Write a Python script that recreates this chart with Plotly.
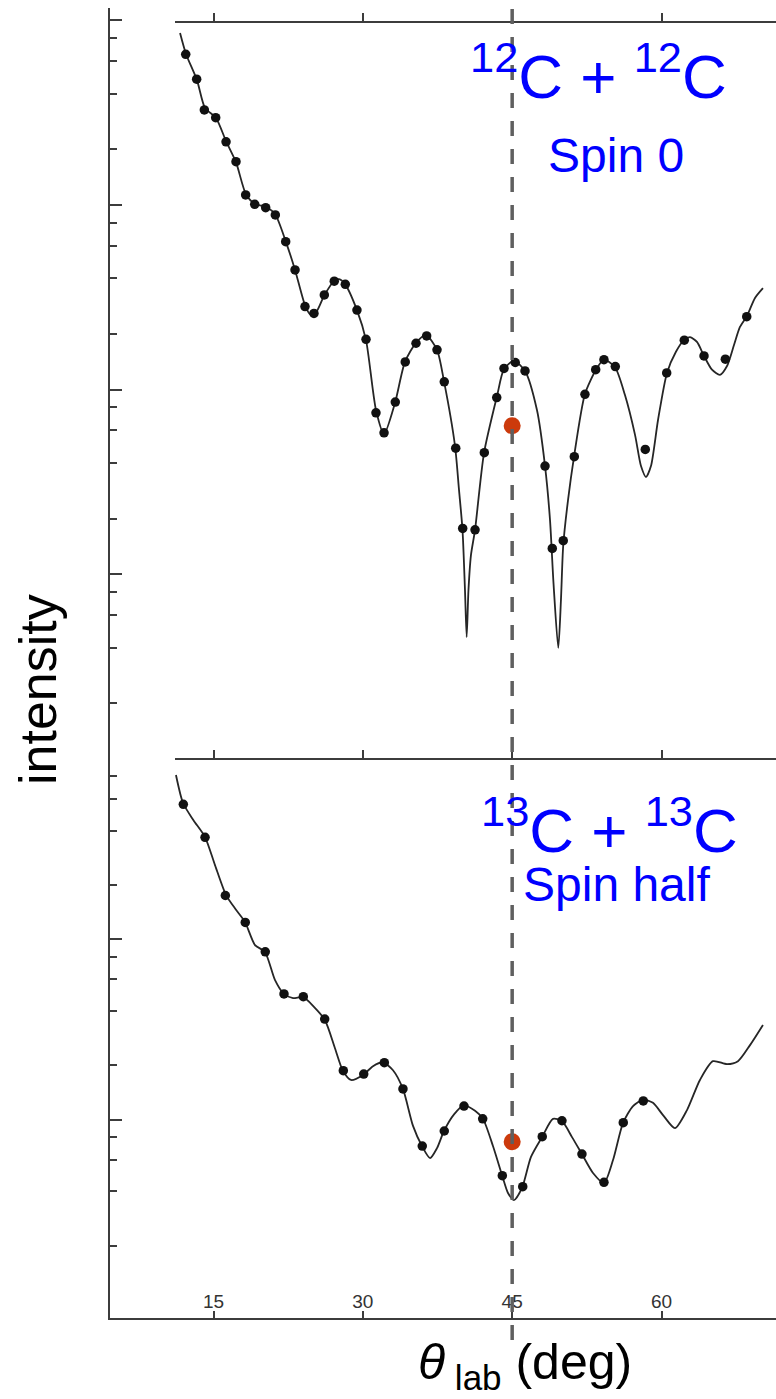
import plotly.graph_objects as go

# ---------------- data ----------------
# 12C + 12C  (spin 0) : theory curve and measured points
top_curve_theta = [11.64, 12.24, 13.34, 14.15, 15.25, 16.26, 17.26, 18.26, 19.17, 20.27,
                   21.18, 22.28, 23.19, 24.19, 24.69, 25.30, 26.10, 27.10, 27.61, 28.21,
                   29.41, 30.32, 31.32, 32.13, 33.23, 34.23, 35.34, 36.34, 37.45, 38.15,
                   39.26, 39.66, 40.01, 40.26, 40.43, 40.61, 40.86, 41.27, 42.17, 43.48,
                   44.18, 45.18, 46.29, 47.49, 48.30, 48.80, 49.15, 49.63, 49.90, 50.13,
                   50.61, 51.21, 52.31, 53.42, 54.22, 55.33, 56.33, 57.34, 57.94, 58.44,
                   58.94, 59.65, 60.55, 61.45, 62.26, 62.86, 63.56, 64.27, 65.07, 65.87,
                   66.58, 67.28, 67.88, 68.58, 69.39, 70.19]
top_curve_value = [8510, 6550, 4730, 3340, 2950, 2210, 1700, 1140, 1010, 973,
                   891, 628, 444, 286, 256, 262, 321, 386, 396, 372,
                   269, 185, 77.4, 57.4, 84.5, 141, 179, 197, 164, 111,
                   49.4, 28.6, 17.4, 8.22, 4.57, 8.22, 12.7, 17.4, 45.3, 92.3,
                   129, 143, 126, 77.4, 38.5, 19.7, 8.97, 3.99, 7.26, 14.4,
                   25.2, 43.2, 94.6, 128, 145, 132, 93.3, 56.8, 38.5, 33.6,
                   38.5, 68.4, 123, 160, 185, 192, 181, 152, 128, 120,
                   134, 174, 218, 250, 313, 354]
top_data_theta = [12.21, 13.31, 14.08, 15.22, 16.26, 17.26, 18.23, 19.14, 20.24, 21.21,
                  22.25, 23.19, 24.19, 25.09, 26.13, 27.13, 28.24, 29.41, 30.32, 31.32,
                  32.13, 33.26, 34.26, 35.34, 36.41, 37.45, 38.18, 39.33, 40.03, 41.27,
                  42.20, 43.45, 44.18, 45.31, 46.29, 48.30, 49.03, 50.13, 51.24, 52.31,
                  53.39, 54.22, 55.36, 58.37, 60.52, 62.29, 64.27, 66.41, 68.56]
top_data_value = [6520, 4780, 3260, 2960, 2190, 1710, 1130, 1005, 964, 881,
                  631, 444, 281, 258, 325, 386, 371, 269, 187, 74.8,
                  58.3, 85.5, 141, 178, 195, 164, 110, 48.1, 17.7, 17.4,
                  45.5, 90.4, 130, 140, 126, 38.5, 13.8, 15.2, 43.3, 94.2,
                  128, 145, 133, 47.4, 123, 185, 152, 146, 248]

# 13C + 13C  (spin half)
bot_curve_theta = [11.23, 11.94, 12.97, 14.15, 15.15, 16.26, 17.26, 18.16, 19.17, 20.17,
                   21.18, 22.08, 22.99, 23.99, 25.09, 26.20, 27.20, 28.01, 28.81, 30.02,
                   31.02, 32.02, 33.03, 34.03, 35.04, 35.94, 36.75, 37.45, 38.15, 39.16,
                   40.16, 41.27, 42.07, 43.07, 43.98, 44.58, 45.18, 45.99, 46.89, 48.00,
                   49.10, 50.00, 51.01, 52.01, 53.12, 54.22, 55.13, 56.13, 57.14, 58.14,
                   59.14, 60.15, 61.35, 62.56, 63.86, 65.17, 66.58, 67.68, 68.89, 70.19]
bot_curve_value = [815, 570, 459, 369, 258, 176, 146, 125, 92.9, 85.1,
                   59.4, 49.8, 47.2, 47.9, 42.2, 35.6, 24.9, 18.6, 16.6, 17.7,
                   19.8, 20.8, 18.8, 14.8, 9.23, 7.14, 6.12, 6.95, 8.65, 10.7,
                   12.0, 11.2, 10.1, 7.14, 4.93, 3.92, 3.58, 4.18, 6.21, 8.00,
                   10.1, 9.82, 8.00, 6.44, 5.06, 4.45, 5.97, 9.57, 11.9, 12.9,
                   12.4, 10.6, 8.97, 11.3, 16.6, 21.1, 20.3, 21.1, 25.9, 33.5]
bot_data_theta = [11.97, 14.15, 16.19, 18.19, 20.20, 22.08, 24.02, 26.17, 28.04, 30.09,
                  32.16, 34.03, 35.97, 38.18, 40.16, 42.04, 44.01, 46.06, 48.02, 50.00,
                  52.01, 54.22, 56.16, 58.17]
bot_data_value = [561, 368, 175, 124, 85.3, 49.8, 48.1, 36.1, 18.7, 17.9,
                  20.7, 14.8, 7.14, 8.65, 11.9, 10.1, 4.89, 4.25, 8.04, 9.86,
                  6.44, 4.49, 9.62, 12.7]

# highlighted points at 90 deg c.m. (45 deg lab)
marked_theta = [45.0]
marked_top_value = [63.7]
marked_bot_value = [7.53]

x_ticks = [15, 30, 45, 60]
x_range = [4.604, 71.50]
frame_range = [11.133, 71.50]

top_major = [1, 10, 100, 1000, 10000]
top_minor = [m * d for d in [1, 10, 100, 1000] for m in (2, 4, 6, 8)]
bot_major = [1, 10, 100, 1000]
bot_minor = [m * d for d in [1, 10, 100] for m in (2, 4, 6, 8)]

# ---------------- figure ----------------
W, H = 776, 1399
AX = "#3c3c3c"
FONT = "Liberation Sans, Arial, sans-serif"

def py(p):  # pixel row -> paper fraction
    return 1 - p / H

fig = go.Figure()

curve_style = dict(color="#262626", width=1.8, shape="spline", smoothing=0.7)
dot_style = dict(color="#111111", size=9.5)
red_style = dict(color="#cc3a0c", size=17)

fig.add_trace(go.Scatter(x=top_curve_theta, y=top_curve_value, mode="lines",
                         line=curve_style, xaxis="x", yaxis="y", hoverinfo="skip"))
fig.add_trace(go.Scatter(x=top_data_theta, y=top_data_value, mode="markers",
                         marker=dot_style, xaxis="x", yaxis="y"))
fig.add_trace(go.Scatter(x=marked_theta, y=marked_top_value, mode="markers",
                         marker=red_style, xaxis="x", yaxis="y"))

fig.add_trace(go.Scatter(x=bot_curve_theta, y=bot_curve_value, mode="lines",
                         line=curve_style, xaxis="x2", yaxis="y2", hoverinfo="skip"))
fig.add_trace(go.Scatter(x=bot_data_theta, y=bot_data_value, mode="markers",
                         marker=dot_style, xaxis="x2", yaxis="y2"))
fig.add_trace(go.Scatter(x=marked_theta, y=marked_bot_value, mode="markers",
                         marker=red_style, xaxis="x2", yaxis="y2"))

# empty traces so the frame axes get subplots
fig.add_trace(go.Scatter(x=[], y=[], xaxis="x3", yaxis="y", hoverinfo="skip"))
fig.add_trace(go.Scatter(x=[], y=[], xaxis="x4", yaxis="y2", hoverinfo="skip"))

x0 = 110 / W
common_y = dict(type="log", showgrid=False, zeroline=False, showline=True,
                linecolor=AX, linewidth=2, ticks="inside", ticklen=12, tickwidth=2,
                tickcolor=AX, showticklabels=False, tickmode="array")
frame_x = dict(domain=[175 / W, 1], range=frame_range, anchor="free", side="top",
               showline=True, linecolor=AX, linewidth=2, ticks="outside", ticklen=8,
               tickwidth=1.5, tickcolor=AX, tickmode="array", tickvals=x_ticks,
               showticklabels=False, showgrid=False, zeroline=False)

fig.update_layout(
    width=W, height=H, margin=dict(l=0, r=0, t=0, b=0),
    paper_bgcolor="white", plot_bgcolor="rgba(0,0,0,0)", showlegend=False,
    font=dict(family=FONT),
    xaxis=dict(domain=[x0, 1], range=x_range, anchor="y", visible=False),
    yaxis=dict(domain=[py(759), py(8)], range=[0, 4.065], anchor="x",
               tickvals=top_major,
               minor=dict(tickmode="array", tickvals=top_minor, ticks="inside",
                          ticklen=7, tickwidth=2, tickcolor=AX),
               **common_y),
    xaxis2=dict(domain=[x0, 1], range=x_range, anchor="y2", showline=True,
                linecolor=AX, linewidth=2, ticks="inside", ticklen=7, tickwidth=1.5,
                tickcolor=AX, tickmode="array", tickvals=x_ticks,
                ticklabelposition="inside", tickfont=dict(size=19, color="#333333"),
                showgrid=False, zeroline=False),
    yaxis2=dict(domain=[py(1318), py(759)], range=[-0.100, 3.0], anchor="x2",
                tickvals=bot_major,
                minor=dict(tickmode="array", tickvals=bot_minor, ticks="inside",
                           ticklen=7, tickwidth=2, tickcolor=AX),
                **common_y),
    xaxis3=dict(position=py(22), **frame_x),
    xaxis4=dict(position=py(759), **frame_x),
)

# dashed marker line at 45 deg
fig.add_shape(type="line", xref="x2", yref="paper", x0=45, x1=45,
              y0=py(1340), y1=py(3),
              line=dict(color="#5f5f5f", width=3.5, dash="15px,13px"))

blue = "#0000ff"
def label(text, x, y, size, color, angle=0):
    fig.add_annotation(text=text, xref="paper", yref="paper", x=x / W, y=py(y),
                       xanchor="center", yanchor="middle", showarrow=False,
                       textangle=angle, font=dict(size=size, color=color))

label("<sup>12</sup>C + <sup>12</sup>C", 598, 72, 62, blue)
label("Spin 0", 616, 155, 48, blue)
label("<sup>13</sup>C + <sup>13</sup>C", 609, 826, 62, blue)
label("Spin half", 616, 884, 48, blue)
label("intensity", 38, 690, 52, "black", angle=-90)
label("<i>θ</i><sub> lab</sub> (deg)", 525, 1365, 50, "black")

fig.write_html("out.html")
